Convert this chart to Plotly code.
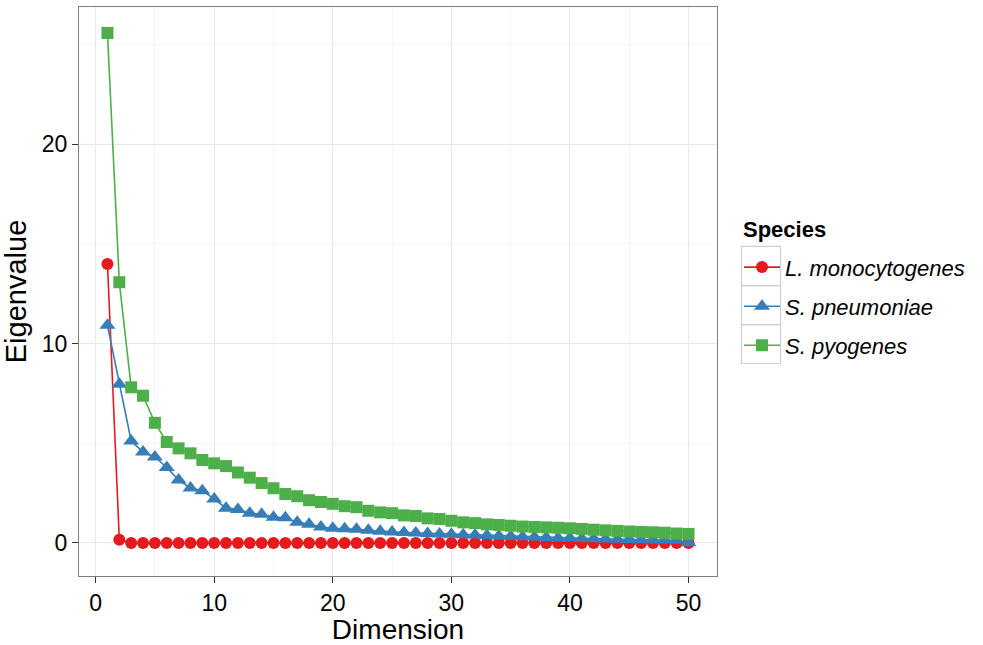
import plotly.graph_objects as go

dims = list(range(1, 51))

l_mono = [13.98, 0.16] + [0.0] * 48

s_pneu = [10.91, 7.96, 5.11, 4.56, 4.31, 3.78, 3.15, 2.75, 2.62, 2.20,
          1.74, 1.68, 1.49, 1.43, 1.29, 1.26, 1.04, 0.93, 0.80, 0.73,
          0.71, 0.68, 0.63, 0.58, 0.55, 0.52, 0.50, 0.47, 0.45, 0.43,
          0.41, 0.39, 0.37, 0.35, 0.33, 0.31, 0.29, 0.27, 0.25, 0.24,
          0.22, 0.21, 0.19, 0.18, 0.17, 0.16, 0.15, 0.14, 0.13, 0.01]

s_pyo = [25.57, 13.07, 7.80, 7.38, 6.02, 5.06, 4.74, 4.49, 4.16, 3.99,
         3.85, 3.53, 3.27, 3.00, 2.74, 2.45, 2.34, 2.14, 2.05, 1.96,
         1.84, 1.79, 1.61, 1.53, 1.49, 1.38, 1.35, 1.23, 1.20, 1.11,
         1.03, 0.99, 0.93, 0.90, 0.86, 0.82, 0.80, 0.78, 0.76, 0.73,
         0.70, 0.66, 0.63, 0.60, 0.57, 0.55, 0.53, 0.51, 0.47, 0.45]

names = ["<i>L. monocytogenes</i>", "<i>S. pneumoniae</i>", "<i>S. pyogenes</i>"]
colors = ["#E41A1C", "#377EB8", "#4DAF4A"]
symbols = ["circle", "triangle-up", "square"]
sizes = [12, 14, 12]
series = [l_mono, s_pneu, s_pyo]

FONT = "Liberation Sans, Arial, sans-serif"

fig = go.Figure()
for i in range(3):
    fig.add_trace(go.Scatter(
        x=dims, y=series[i], name=names[i], mode="lines+markers",
        legendgroup=f"g{i}",
        line=dict(color=colors[i], width=1.6),
        marker=dict(symbol=symbols[i], size=sizes[i], color=colors[i],
                    line=dict(width=0)),
    ))

axis_common = dict(
    showline=True, mirror=True, linecolor="#7f7f7f", linewidth=1.2,
    showgrid=True, gridcolor="#e8e8e8", gridwidth=1,
    zeroline=False, ticks="outside", ticklen=6, tickwidth=1.2,
    tickcolor="#333333", tickfont=dict(size=23, color="#000000", family=FONT),
)

fig.update_xaxes(
    **axis_common, range=[-1.4, 52.4], tickmode="array",
    tickvals=[0, 10, 20, 30, 40, 50],
    minor=dict(tickvals=[5, 15, 25, 35, 45], showgrid=True,
               gridcolor="#f5f5f5", ticks=""),
    title=dict(text="Dimension", font=dict(size=28, color="#000000", family=FONT),
               standoff=4),
)
fig.update_yaxes(
    **axis_common, range=[-1.66, 26.87], tickmode="array",
    tickvals=[0, 10, 20],
    minor=dict(tickvals=[5, 15, 25], showgrid=True,
               gridcolor="#f5f5f5", ticks=""),
    title=dict(text="Eigenvalue", font=dict(size=29, color="#000000", family=FONT),
               standoff=6),
)

W, H = 983 - 79 - 266, 645 - 6 - 66
def px2paper_x(px):
    return (px - 79) / W
def px2paper_y(py):
    return (645 - 66 - py) / H

# legend key boxes (ggplot style)
for top, bot in [(247, 286.5), (286.5, 326), (326, 365)]:
    fig.add_shape(type="rect", xref="paper", yref="paper",
                  x0=px2paper_x(741.5), x1=px2paper_x(780.5),
                  y0=px2paper_y(bot), y1=px2paper_y(top),
                  line=dict(color="#d0d0d0", width=1.2), fillcolor="rgba(0,0,0,0)",
                  layer="below")

fig.add_annotation(text="<b>Species</b>", xref="paper", yref="paper",
                   x=px2paper_x(741), y=px2paper_y(230.5), xanchor="left",
                   yanchor="middle", showarrow=False,
                   font=dict(size=22, family=FONT, color="#000000"))

fig.update_layout(
    width=983, height=645,
    margin=dict(l=79, r=266, t=6, b=66),
    paper_bgcolor="white", plot_bgcolor="white",
    font=dict(family=FONT, color="#000000"),
    legend=dict(
        font=dict(size=22, family=FONT),
        x=px2paper_x(739), xanchor="left",
        y=px2paper_y(247), yanchor="top",
        tracegroupgap=7.5, bgcolor="rgba(0,0,0,0)",
        itemwidth=36,
    ),
)

fig.write_html("out.html")
